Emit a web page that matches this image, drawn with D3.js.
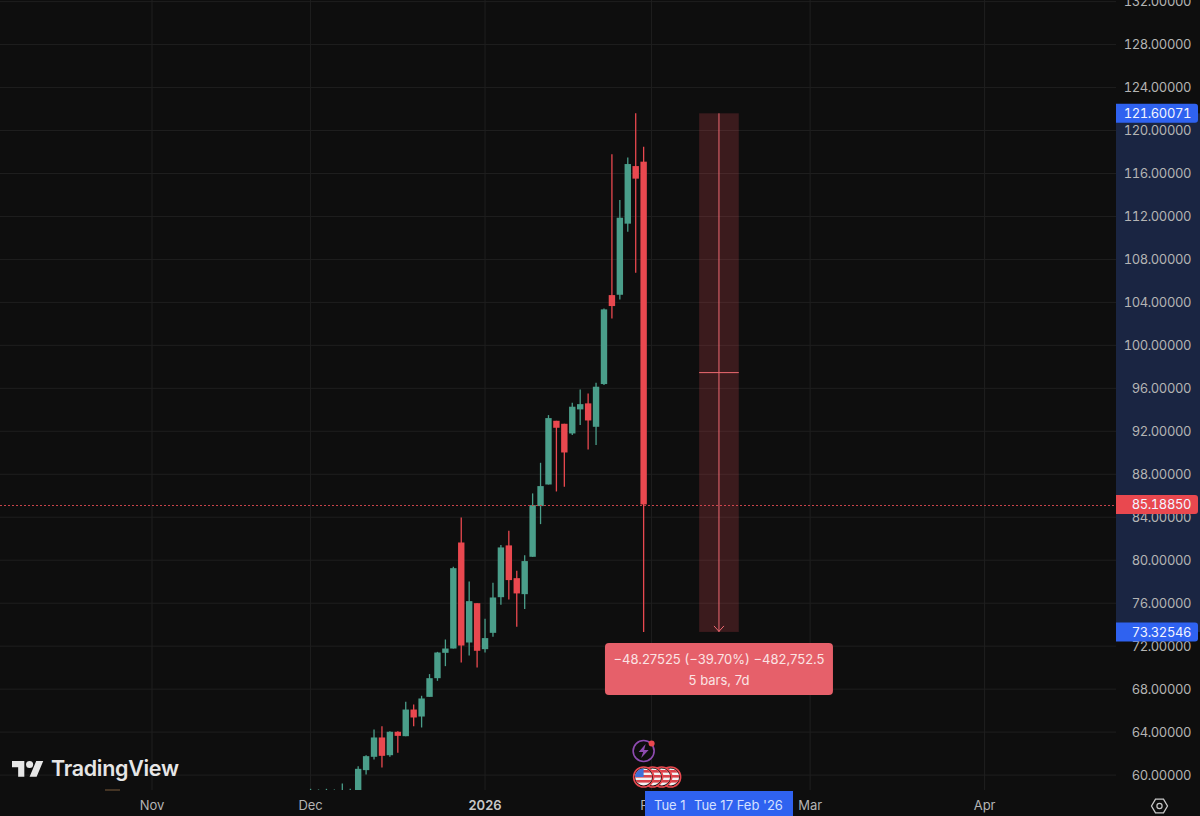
<!DOCTYPE html>
<html><head><meta charset="utf-8">
<script src="https://cdn.jsdelivr.net/npm/d3@7"></script>
<style>html,body{margin:0;padding:0;background:#0e0e0e}svg{display:block}text{font-family:Inter,"Noto Sans",sans-serif}text.num{font-variant-numeric:tabular-nums;letter-spacing:-.4px}</style>
</head><body><svg id="c" width="1200" height="816"></svg>
<script>
const barDates=["2025-12-01","2025-12-02","2025-12-03","2025-12-04","2025-12-05","2025-12-08","2025-12-09","2025-12-10","2025-12-11","2025-12-12","2025-12-15","2025-12-16","2025-12-17","2025-12-18","2025-12-19","2025-12-22","2025-12-23","2025-12-24","2025-12-26","2025-12-29","2025-12-30","2025-12-31","2026-01-02","2026-01-05","2026-01-06","2026-01-07","2026-01-08","2026-01-09","2026-01-12","2026-01-13","2026-01-14","2026-01-15","2026-01-16","2026-01-19","2026-01-20","2026-01-21","2026-01-22","2026-01-23","2026-01-26","2026-01-27","2026-01-28","2026-01-29","2026-01-30"];
const opens=[57.6,57.6,57.7,57.6,57.7,57.6,57.5,60.46,61.70,63.50,61.85,64.03,63.62,66.10,65.45,67.28,69.02,71.38,71.78,81.65,72.34,76.0,71.72,73.24,76.56,81.38,78.33,76.84,80.32,85.04,87.05,92.98,92.70,91.80,94.04,94.60,92.42,96.4,104.68,104.71,111.33,116.69,117.1];
const closes=[57.9,57.9,58.0,57.9,58.2,58.0,60.58,61.76,63.50,61.79,64.03,63.65,66.10,65.36,67.13,69.02,71.41,71.78,79.26,72.06,76.19,71.57,72.75,76.53,81.19,78.15,76.91,79.92,85.13,86.90,93.23,92.33,90.03,94.29,94.53,93.01,96.15,103.35,103.66,111.88,116.88,115.52,85.1885];
const highs=[58.72,58.66,58.72,58.66,59.21,58.72,60.83,61.85,64.24,64.55,64.09,64.09,66.82,66.57,67.38,69.40,71.47,72.62,79.39,83.98,78.02,76.0,74.55,77.90,81.41,82.74,79.02,80.47,86.22,89.07,93.51,92.98,92.70,94.66,95.90,95.53,96.52,103.44,117.78,113.53,117.5,121.60071,118.5];
const lows=[57.4,57.4,57.5,57.4,57.5,57.4,56.8,60.05,61.45,60.70,61.70,62.07,63.62,64.55,64.43,67.28,68.77,70.14,71.78,70.48,71.13,70.02,71.41,72.87,75.85,76.35,73.80,75.45,80.32,83.36,87.05,86.40,86.84,91.65,92.58,90.31,90.72,96.3,102.51,104.28,110.58,106.76,73.32546];
const priceTicks=[60,64,68,72,76,80,84,88,92,96,100,104,108,112,116,120,124,128,132];
const monthTicks=[["Nov","2025-11-03"],["Dec","2025-12-01"],["2026","2026-01-02"],["Feb","2026-02-02"],["Mar","2026-03-02"],["Apr","2026-04-01"]];
const holidays=["2025-12-25","2026-01-01"];
const measureFrom="2026-02-10", measureTo="2026-02-17";
const measureHigh=121.60071, measureLow=73.32546, lastPrice=85.1885;
const measureText=["\u221248.27525 (\u221239.70%) \u2212482,752.5","5 bars, 7d"];
const eventDays=[0,1,2,3];

const fmt=d3.utcFormat("%Y-%m-%d");
const tradingDays=d3.utcDay.range(new Date(Date.UTC(2025,10,3)),new Date(Date.UTC(2026,4,1)))
  .filter(d=>d.getUTCDay()%6!==0).map(fmt).filter(d=>!holidays.includes(d));
const idx=d=>tradingDays.indexOf(d);
const W=1200,H=816,plotR=1116,plotB=790;
const xs=d3.scaleLinear().domain([0,105]).range([152,984.6]);
const x=d=>xs(idx(d));
const y=d3.scaleLinear().domain([58.61,132.15]).range([plotB,0]);
const svg=d3.select("#c");
const UP="#4a9e8a",DN="#e9484f",TXT="#b4b4b4",GRID="#1f1f1f";
svg.append("rect").attr("width",W).attr("height",H).attr("fill","#0e0e0e");
const defs=svg.append("defs");
defs.append("clipPath").attr("id","plot").append("rect").attr("width",plotR).attr("height",plotB);

// grid
const grid=svg.append("g").attr("clip-path","url(#plot)");
grid.selectAll(".h").data(priceTicks).join("line").attr("x1",0).attr("x2",plotR)
  .attr("y1",d=>y(d)).attr("y2",d=>y(d)).attr("stroke",GRID);
grid.selectAll(".v").data(monthTicks).join("line").attr("y1",0).attr("y2",plotB)
  .attr("x1",d=>x(d[1])).attr("x2",d=>x(d[1])).attr("stroke",GRID);

// candles
const bars=barDates.map((d,i)=>({d,o:opens[i],c:closes[i],h:highs[i],l:lows[i]}));
const g=svg.append("g").attr("clip-path","url(#plot)");
const col=b=>b.c>=b.o?UP:DN;
g.selectAll(".w").data(bars).join("line").attr("x1",b=>x(b.d)).attr("x2",b=>x(b.d))
  .attr("y1",b=>y(b.h)).attr("y2",b=>y(b.l)).attr("stroke",col).attr("stroke-width",1.3);
g.selectAll(".b").data(bars).join("rect").attr("x",b=>x(b.d)-3.2).attr("width",6.4)
  .attr("y",b=>y(Math.max(b.o,b.c))).attr("height",b=>Math.max(1,Math.abs(y(b.o)-y(b.c)))).attr("fill",col);

// last price line
svg.append("line").attr("x1",0).attr("x2",plotR).attr("y1",Math.round(y(lastPrice))+1.5).attr("y2",Math.round(y(lastPrice))+1.5)
  .attr("stroke","#c8434a").attr("stroke-dasharray","2 2");

// small tan mark near Nov
svg.append("line").attr("x1",x("2025-11-03")-47).attr("x2",x("2025-11-03")-32).attr("y1",plotB).attr("y2",plotB)
  .attr("stroke","#7a5a3a").attr("stroke-width",1);

// measure tool
const mx0=x(measureFrom),mx1=x(measureTo),mc=(mx0+mx1)/2,yHi=y(measureHigh),yLo=y(measureLow);
const m=svg.append("g");
m.append("rect").attr("x",mx0).attr("y",yHi).attr("width",mx1-mx0).attr("height",yLo-yHi).attr("fill","#f0505a").attr("fill-opacity",.2);
m.append("line").attr("x1",mc).attr("x2",mc).attr("y1",yHi).attr("y2",yLo).attr("stroke","#ef6a72");
m.append("line").attr("x1",mx0).attr("x2",mx1).attr("y1",(yHi+yLo)/2).attr("y2",(yHi+yLo)/2).attr("stroke","#ef6a72");
m.append("path").attr("d",d3.line()([[mc-5,yLo-6],[mc,yLo-.5],[mc+5,yLo-6]])).attr("fill","none").attr("stroke","#ef6a72");
m.append("rect").attr("x",mc-114).attr("y",yLo+11).attr("width",228).attr("height",52).attr("rx",4).attr("fill","#e6606a");
m.selectAll("text").data(measureText).join("text").attr("x",mc).attr("y",(d,i)=>yLo+32+i*21).attr("text-anchor","middle")
  .attr("font-size",13).attr("fill","#fbe4e4").text(d=>d);

// events
const ex=x("2026-01-30");
const ev=svg.append("g");
ev.append("circle").attr("cx",ex).attr("cy",751).attr("r",10.5).attr("fill","#0e0e0e").attr("stroke","#8e4bb0").attr("stroke-width",1.6);
ev.append("path").attr("transform",`translate(${ex},751)`).attr("d","M2 -7 L-5 1 L-0.5 1 L-2.5 7 L5 -1 L0.5 -1 Z").attr("fill","#8e4bb0");
ev.append("circle").attr("cx",ex+8).attr("cy",743.5).attr("r",3).attr("fill","#e9484f");
defs.append("clipPath").attr("id","flag").append("circle").attr("r",8.5);
eventDays.slice().reverse().forEach(n=>{
  const f=ev.append("g").attr("transform",`translate(${ex+n*9},777)`);
  f.append("circle").attr("r",10).attr("fill","#0e0e0e").attr("stroke","#e9484f").attr("stroke-width",1.6);
  const s=f.append("g").attr("clip-path","url(#flag)");
  s.append("rect").attr("x",-9).attr("y",-9).attr("width",18).attr("height",18).attr("fill","#f2f2f2");
  [-7,-2,3,8].forEach(t=>s.append("rect").attr("x",-9).attr("y",t).attr("width",18).attr("height",2.6).attr("fill","#d9434b"));
  if(n===0)s.append("rect").attr("x",-9).attr("y",-9).attr("width",9).attr("height",9).attr("fill","#3f6fd8");
});

// price axis
svg.append("rect").attr("x",plotR).attr("y",yHi).attr("width",W-plotR).attr("height",yLo-yHi).attr("fill","#1a2542");
svg.selectAll(".pt").data(priceTicks).join("text").attr("class","num").attr("x",1191).attr("y",d=>y(d)+4.8).attr("text-anchor","end")
  .attr("font-size",13).attr("fill",TXT).text(d=>d3.format(".5f")(d));
function pill(v,c){
  const yy=y(v);
  svg.append("path").attr("d",`M${plotR} ${yy-9.5}H1195a3 3 0 0 1 3 3V${yy+6.5}a3 3 0 0 1 -3 3H${plotR}Z`).attr("fill",c);
  svg.append("text").attr("class","num").attr("x",1191).attr("y",yy+4.8).attr("text-anchor","end").attr("font-size",13).attr("fill","#f2f4ff").text(d3.format(".5f")(v));
}
pill(measureHigh,"#2f62f0");pill(measureLow,"#2f62f0");pill(lastPrice,"#e9484f");

// time axis
svg.selectAll(".mt").data(monthTicks).join("text").attr("x",d=>x(d[1])).attr("y",810).attr("text-anchor","middle")
  .attr("font-size",13).attr("font-weight",d=>d[0]==="2026"?600:400).attr("fill",d=>d[0]==="2026"?"#c8c8c8":TXT).text(d=>d[0]);
svg.append("rect").attr("x",645).attr("y",791).attr("width",148).attr("height",25).attr("fill","#2f62f0");
svg.append("text").attr("x",654).attr("y",810).attr("font-size",13).attr("fill","#d5e0ff").text("Tue 1");
svg.append("text").attr("x",694).attr("y",810).attr("font-size",13).attr("fill","#d5e0ff").text("Tue 17 Feb '26");

// gear
svg.append("path").attr("d",d3.line()(d3.range(6).map(i=>[1159.5+8*Math.cos(i*Math.PI/3),806+8*Math.sin(i*Math.PI/3)])) + "Z")
  .attr("fill","none").attr("stroke","#c8c8c8").attr("stroke-width",1.3);
svg.append("circle").attr("cx",1159.5).attr("cy",806).attr("r",2.6).attr("fill","none").attr("stroke","#c8c8c8").attr("stroke-width",1.2);

// logo
const lg=svg.append("g").attr("transform","translate(12,757.5) scale(.88)").attr("fill","#e6e6e6");
lg.append("path").attr("d","M14 22H7V11H0V4h14v18zM28 22h-8l7.5-18h8L28 22z");
lg.append("circle").attr("cx",20).attr("cy",8).attr("r",4);
svg.append("text").attr("x",51).attr("y",776).attr("font-size",21.5).attr("font-weight",600).attr("letter-spacing",-.3).attr("fill","#e6e6e6").text("TradingView");
</script></body></html>
